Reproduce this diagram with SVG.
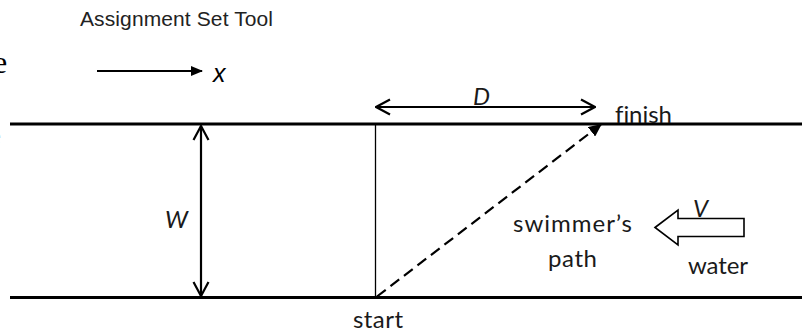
<svg xmlns="http://www.w3.org/2000/svg" width="802" height="333" viewBox="0 0 802 333">
<style>
.river{stroke:#000;stroke-width:3;fill:none}
.dim{stroke:#000;stroke-width:2.2;fill:none}
.thin{stroke:#000;stroke-width:1.3;fill:none}
.lbl{font-family:Lato,"Open Sans",sans-serif;font-size:24px;fill:#1a1a1a;font-variant-ligatures:none}
.it{font-style:italic}
.title{font-family:"Liberation Sans",Arial,sans-serif;font-size:21px;fill:#222}
</style>
<defs>
<marker id="chev" viewBox="0 0 16 18" refX="15" refY="9" markerWidth="16" markerHeight="18" markerUnits="userSpaceOnUse" orient="auto-start-reverse">
<path d="M1,1.5 L15,9 L1,16.5" fill="none" stroke="#000" stroke-width="2.2"/>
</marker>
<marker id="tri" viewBox="0 0 12 10" refX="11" refY="5" markerWidth="12" markerHeight="10" markerUnits="userSpaceOnUse" orient="auto">
<path d="M0,0 L12,5 L0,10 Z" fill="#000"/>
</marker>
<marker id="tri2" viewBox="0 0 13 12" refX="12" refY="6" markerWidth="13" markerHeight="12" markerUnits="userSpaceOnUse" orient="auto">
<path d="M0,0 L13,6 L0,12 Z" fill="#000"/>
</marker>
</defs>

<text x="-7" y="73" font-family="'Liberation Serif',serif" font-size="32" fill="#000">e</text>
<text x="-9" y="143" font-family="'Liberation Serif',serif" font-size="22" fill="#888">e</text>

<text class="title" x="80" y="26" textLength="193">Assignment Set Tool</text>

<g id="river">
<line class="river" x1="10" y1="124" x2="802" y2="124"/>
<line class="river" x1="10" y1="297.5" x2="802" y2="297.5"/>
</g>

<g id="connectors">
<line class="dim" x1="97" y1="71" x2="202" y2="71" marker-end="url(#tri)"/>
<line class="dim" x1="376" y1="107" x2="595" y2="107" marker-start="url(#chev)" marker-end="url(#chev)"/>
<line class="dim" x1="201" y1="126" x2="201" y2="296" marker-start="url(#chev)" marker-end="url(#chev)"/>
<line class="thin" x1="375.5" y1="124" x2="375.5" y2="297.5"/>
<line stroke="#000" stroke-width="2.2" stroke-dasharray="11,6" x1="377" y1="296.5" x2="601" y2="124.5" marker-end="url(#tri2)"/>
</g>

<g id="water-arrow">
<polygon points="655,227.5 678,210 678,218.5 744,218.5 744,236.5 678,236.5 678,245" fill="#fff" stroke="#000" stroke-width="1.6" stroke-linejoin="miter"/>
</g>

<g id="labels">
<text x="213" y="82" font-family="'Liberation Sans',Arial,sans-serif" font-style="italic" font-size="25" fill="#000">x</text>
<text class="lbl it" x="473" y="105">D</text>
<text class="lbl it" x="165" y="228">W</text>
<text class="lbl it" x="693" y="217">V</text>
<text class="lbl" x="615" y="123" textLength="57">finish</text>
<text class="lbl" x="513" y="231.5" textLength="119">swimmer’s</text>
<text class="lbl" x="548" y="266.7" textLength="49">path</text>
<text class="lbl" x="688" y="274" textLength="60">water</text>
<text class="lbl" x="353" y="327.5" textLength="50">start</text>
</g>
</svg>
